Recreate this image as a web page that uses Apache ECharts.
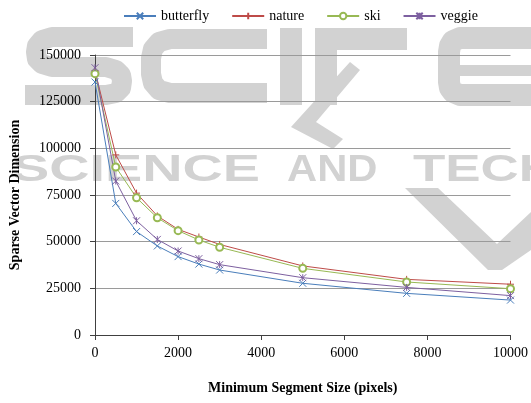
<!DOCTYPE html>
<html>
<head>
<meta charset="utf-8">
<script src="https://cdn.jsdelivr.net/npm/echarts@6/dist/echarts.min.js"></script>
<style>
html,body{margin:0;padding:0;background:#fff;}
#chart{width:531px;height:403px;}
</style>
</head>
<body>
<div id="chart"></div>
<script>
const xValues = [0, 500, 1000, 1500, 2000, 2500, 3000, 5000, 7500, 10000];
const butterfly = [135500, 70500, 55400, 47700, 42000, 38000, 34800, 27700, 22300, 18700];
const nature = [141500, 96500, 76000, 63800, 56600, 52500, 48500, 37000, 29800, 27200];
const ski = [140000, 90000, 73500, 62800, 55900, 50900, 47000, 35700, 28400, 24800];
const veggie = [143200, 82500, 61200, 51200, 45000, 40900, 37700, 30700, 25500, 21100];
const seriesNames = ['butterfly', 'nature', 'ski', 'veggie'];
const colors = ['#4a7ebb', '#be4b48', '#98b954', '#7d60a0'];
const yTicks = [0, 25000, 50000, 75000, 100000, 125000, 150000];
const xTicks = [0, 2000, 4000, 6000, 8000, 10000];

const symX = 'path://M0,0L10,10M10,0L0,10';
const symPlus = 'path://M5,0L5,10M0,5L10,5';
const symStar = 'path://M0,0L10,10M10,0L0,10M5,0L5,10';
const symbols = [symX, symPlus, 'emptyCircle', symStar];
const allValues = [butterfly, nature, ski, veggie];

const serif = 'Liberation Serif';
const wm = '#d2d2d2';
const wmFont2 = 'bold 36px "Liberation Sans"';

function word(t, x, y, sx) {
  return {type: 'text', x: x, y: y, scaleX: sx, z: -10, silent: true,
    style: {text: t, x: 0, y: 0, font: wmFont2, fill: wm, verticalAlign: 'top', align: 'left'}};
}
function stroke(points, w) {
  return {type: 'polyline', z: -10, silent: true, shape: {points: points},
    style: {fill: null, stroke: wm, lineWidth: w, lineCap: 'butt', lineJoin: 'round'}};
}
function box(x, y, w, h) {
  return {type: 'rect', z: -10, silent: true, shape: {x: x, y: y, width: w, height: h}, style: {fill: wm}};
}

const chart = echarts.init(document.getElementById('chart'));
chart.setOption({
  animation: false,
  backgroundColor: '#fff',
  textStyle: {fontFamily: serif},
  graphic: {elements: [
    stroke([[133,37],[52,37],[42,40],[37,46],[36,52],[37,59],[42,64],[52,67],[106,67],[116,70],[121,75],[122,81],[121,88],[116,93],[106,95],[25,95]], 20),
    stroke([[267,39],[170,39],[159,42],[153,49],[151,58],[151,74],[153,83],[159,90],[170,93],[267,93]], 20),
    box(280, 28, 22, 77),
    box(315, 28, 92, 22),
    box(315, 28, 22, 77),
    {type: 'polygon', z: -10, silent: true, shape: {points: [[350,62],[360,70],[316,122],[343,139],[333,149],[291,127]]}, style: {fill: wm}},
    stroke([[531,38],[460,38],[453,41],[450,46],[449,52],[449,82],[450,88],[453,92],[460,95],[531,95]], 22),
    box(455, 65, 76, 11),
    word('SCIENCE', 12, 153, 1.55),
    word('AND', 287, 153, 1.16),
    word('TECHNOLOGY', 413, 153, 1.47),
    {type: 'polygon', z: -10, silent: true, shape: {points: [[405,188],[438,188],[497,244],[531,212],[531,250],[502,270],[488,270]]}, style: {fill: wm}}
  ]},
  legend: {
    top: 4,
    left: 118,
    itemWidth: 32,
    itemHeight: 8,
    itemGap: 22,
    textStyle: {fontFamily: serif, fontSize: 14, color: '#000'},
    data: seriesNames
  },
  grid: {left: 94, right: 20, top: 55, bottom: 68},
  xAxis: {
    type: 'value', min: 0, max: 10000, interval: 2000,
    name: 'Minimum Segment Size (pixels)', nameLocation: 'middle', nameGap: 46,
    nameTextStyle: {fontFamily: serif, fontSize: 14, fontWeight: 'bold', color: '#000'},
    axisLine: {show: true, lineStyle: {color: '#404040', width: 1}},
    axisTick: {show: true, inside: false, length: 5, lineStyle: {color: '#404040'}},
    axisLabel: {fontFamily: serif, fontSize: 14, color: '#000', margin: 11,
      formatter: v => xTicks.includes(v) ? String(v) : ''},
    splitLine: {show: false}
  },
  yAxis: {
    type: 'value', min: 0, max: 150000, interval: 25000,
    name: 'Sparse Vector Dimension', nameLocation: 'middle', nameGap: 73,
    nameTextStyle: {fontFamily: serif, fontSize: 14, fontWeight: 'bold', color: '#000'},
    axisLine: {show: true, lineStyle: {color: '#404040', width: 1}},
    axisTick: {show: true, inside: false, length: 5, lineStyle: {color: '#404040'}},
    axisLabel: {fontFamily: serif, fontSize: 14, color: '#000', margin: 14,
      formatter: v => yTicks.includes(v) ? String(v) : ''},
    splitLine: {show: true, lineStyle: {color: '#9a9a9a', width: 1}}
  },
  series: seriesNames.map((n, i) => ({
    name: n,
    type: 'line',
    data: xValues.map((x, j) => [x, allValues[i][j]]),
    symbol: symbols[i],
    symbolSize: 7,
    showSymbol: true,
    lineStyle: {color: colors[i], width: 1},
    itemStyle: {color: colors[i], borderColor: colors[i], borderWidth: 1}
  }))
});
</script>
</body>
</html>
